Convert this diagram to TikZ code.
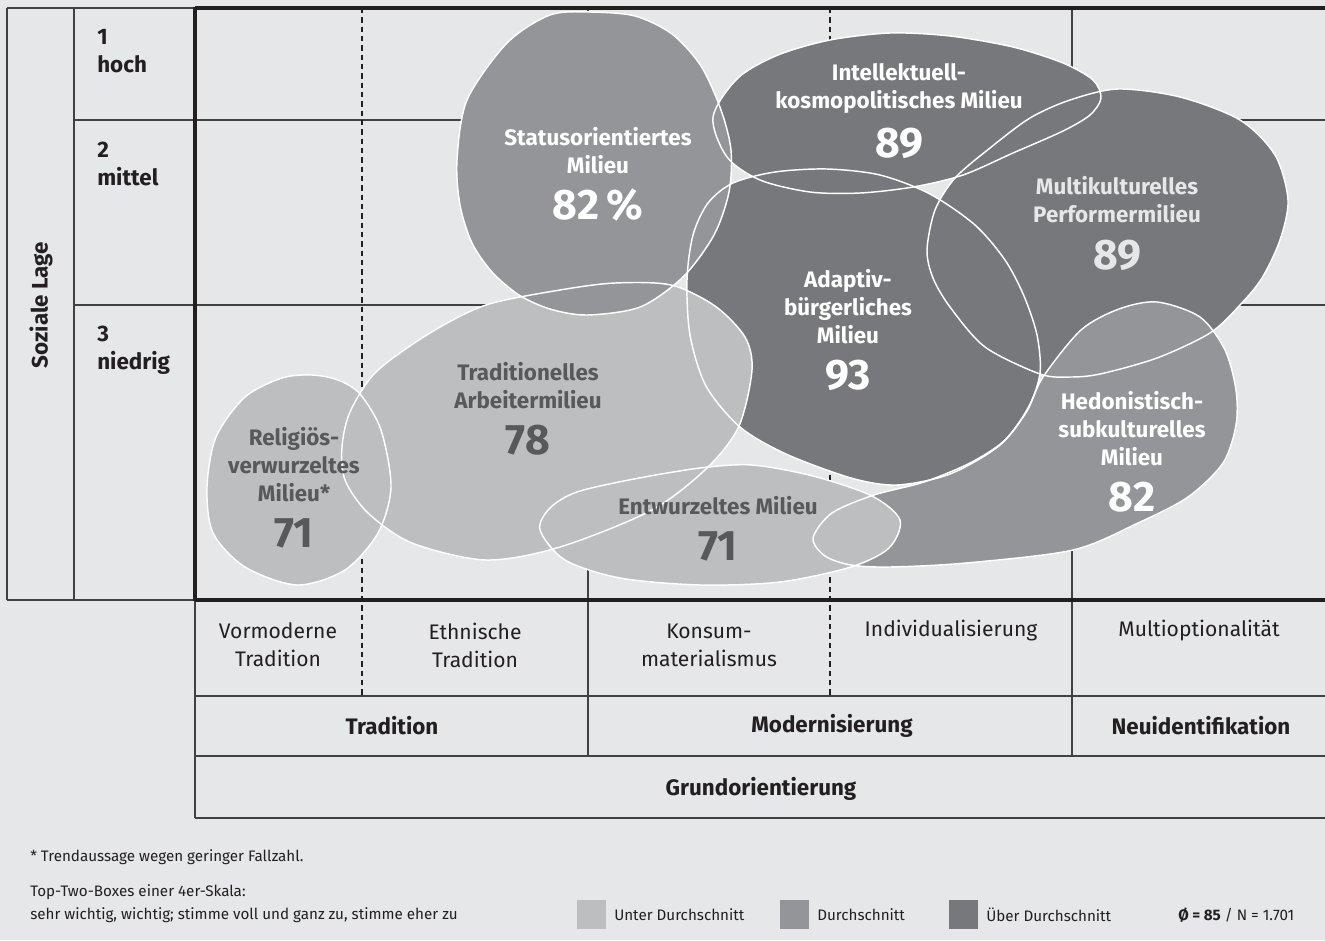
\documentclass[tikz,border=0pt]{standalone}
\usepackage{fontspec}
\setmainfont{Fira Sans}
\definecolor{bg}{HTML}{E6E7E8}
\definecolor{lowc}{HTML}{BCBEC0}
\definecolor{midc}{HTML}{939598}
\definecolor{highc}{HTML}{77787B}
\definecolor{txtdark}{HTML}{231F20}
\definecolor{blobtxt}{HTML}{58595B}
\definecolor{gridc}{HTML}{414042}
\tikzset{
  thinline/.style={draw=gridc, line width=1.1pt},
  thickline/.style={draw=txtdark, line width=2.4pt},
  dashline/.style={draw=txtdark, line width=0.9pt, dash pattern=on 4pt off 3pt},
  outline/.style={draw=white, line width=1.1pt},
  blobname/.style={font=\fontsize{16.8}{21}\selectfont\bfseries, align=center, inner sep=0pt},
  blobnum/.style={font=\fontsize{32}{36}\selectfont\bfseries, inner sep=0pt},
  cattext/.style={font=\fontsize{15.8}{21}\selectfont, align=center, inner sep=0pt, text=txtdark},
  headtext/.style={font=\fontsize{16.8}{21}\selectfont\bfseries, align=center, inner sep=0pt, text=txtdark},
  foottext/.style={font=\fontsize{11.4}{16.5}\selectfont, inner sep=0pt, anchor=west, text=txtdark},
  legbox/.style={minimum width=21.75pt, minimum height=21.75pt, inner sep=0pt, draw=none},
  pStatus/.style={insert path={plot[smooth cycle] coordinates {(590,12) (550,15) (507,43) (467,100) (457,160) (460,205) (472,243) (492,272) (519,295) (550,309) (587,315) (640,307) (683,277) (714,235) (729,192) (731,150) (721,110) (701,66) (672,34) (635,16)}}},
  pIntel/.style={insert path={plot[smooth cycle] coordinates {(713,117) (738,78) (778,55) (830,40) (890,33) (950,36) (1013,47) (1063,63) (1093,80) (1101,98) (1090,115) (1063,131) (1013,153) (963,175) (913,187) (860,193) (810,192) (760,180) (727,157)}}},
  pMulti/.style={insert path={plot[smooth cycle] coordinates {(927,250) (935,210) (955,178) (990,148) (1030,118) (1070,100) (1118,89) (1180,97) (1240,120) (1275,155) (1288,200) (1280,240) (1262,278) (1240,305) (1210,333) (1157,358) (1100,374) (1070,377) (1040,374) (985,347) (950,307) (933,278)}}},
  pAdapt/.style={insert path={plot[smooth cycle] coordinates {(687,280) (693,235) (708,203) (733,183) (775,172) (827,169) (880,175) (930,194) (975,225) (1005,260) (1024,296) (1037,335) (1040,373) (1028,408) (1000,445) (950,474) (897,485) (851,478) (786,454) (740,427) (706,386) (690,335)}}},
  pHed/.style={insert path={plot[smooth cycle] coordinates {(813,538) (832,513) (874,495) (924,482) (970,463) (1004,441) (1027,411) (1043,377) (1081,330) (1119,309) (1157,302) (1200,317) (1225,350) (1236,390) (1236,425) (1223,463) (1188,497) (1138,523) (1073,550) (966,563) (890,567) (851,565) (825,556)}}},
  pTrad/.style={insert path={plot[smooth cycle] coordinates {(486,305) (560,290) (615,283) (671,285) (715,306) (745,337) (752,370) (739,426) (708,467) (652,510) (560,547) (486,560) (412,543) (368,513) (345,480) (342,447) (350,412) (376,372) (430,333)}}},
  pRel/.style={insert path={plot[smooth cycle] coordinates {(312,375) (338,380) (360,394) (381,430) (391,487) (378,533) (345,570) (297,585) (245,567) (213,533) (207,487) (216,437) (245,397) (282,378)}}},
  pEnt/.style={insert path={plot[smooth cycle] coordinates {(540,530) (550,508) (577,492) (634,479) (700,468) (752,465) (813,476) (872,496) (900,520) (889,548) (851,567) (780,582) (700,585) (620,578) (565,560)}}},
}
\begin{document}
\begin{tikzpicture}[x=0.75pt,y=-0.75pt]
\useasboundingbox (0,0) rectangle (1325,940);
\fill[bg] (0,0) rectangle (1325,940);

% ---- grid lines (behind blobs)
\draw[thinline] (7,8) -- (195,8);
\draw[thinline] (7,600) -- (195,600);
\draw[thinline] (7,8) -- (7,600);
\draw[thinline] (74,8) -- (74,600);
\draw[thinline] (74,120) -- (1325,120);
\draw[thinline] (74,305) -- (1325,305);
\draw[thinline] (195,696) -- (1325,696);
\draw[thinline] (195,756) -- (1325,756);
\draw[thinline] (195,818) -- (1325,818);
\draw[thinline] (195,600) -- (195,818);
\draw[thinline] (588,8) -- (588,756);
\draw[thinline] (1072,8) -- (1072,756);
\draw[dashline] (362,8) -- (362,696);
\draw[dashline] (830,8) -- (830,696);
\draw[thickline] (195,8) -- (1325,8);
\draw[thickline] (195,600) -- (1325,600);
\draw[thickline] (195,6.8) -- (195,601.2);

% ---- blob fills (layer order)
\fill[highc, pIntel];
\fill[highc, pMulti];
\fill[highc, pAdapt];
\fill[midc, pHed];
\fill[lowc, pTrad];
\fill[lowc, pRel];
\fill[lowc, pEnt];
\fill[midc, pStatus];

% ---- blob outlines
\path[outline, pIntel];
\path[outline, pMulti];
\path[outline, pAdapt];
\path[outline, pHed];
\path[outline, pTrad];
\path[outline, pRel];
\path[outline, pEnt];
\path[outline, pStatus];

% ---- blob labels
\node[blobname, text=white] (statusN) at (598,151) {Statusorientiertes\\Milieu};
\node[blobnum, text=white] (statusV) at (598,205) {82\,\%};
\node[blobname, text=white] (intelN) at (899,88) {Intellektuell-\\kosmopolitisches Milieu};
\node[blobnum, text=white] (intelV) at (899,143) {89};
\node[blobname, text=bg] (multiN) at (1117,200) {Multikulturelles\\Performermilieu};
\node[blobnum, text=bg] (multiV) at (1117,255) {89};
\node[blobname, text=white] (adaptN) at (848,307) {Adaptiv-\\bürgerliches\\Milieu};
\node[blobnum, text=white] (adaptV) at (848,375) {93};
\node[blobname, text=blobtxt] (tradN) at (528,386) {Traditionelles\\Arbeitermilieu};
\node[blobnum, text=blobtxt] (tradV) at (528,440) {78};
\node[blobname, text=blobtxt] (relN) at (294,465) {Religiös-\\verwurzeltes\\Milieu*};
\node[blobnum, text=blobtxt] (relV) at (294,533) {71};
\node[blobname, text=blobtxt] (entN) at (718,506) {Entwurzeltes Milieu};
\node[blobnum, text=blobtxt] (entV) at (718,546) {71};
\node[blobname, text=white] (hedN) at (1132,429) {Hedonistisch-\\subkulturelles\\Milieu};
\node[blobnum, text=white] (hedV) at (1132,497) {82};

% ---- left axis
\node[headtext, rotate=90] (soz) at (41,305) {Soziale Lage};
\node[headtext, align=left, anchor=west] (r1) at (97,51) {1\\hoch};
\node[headtext, align=left, anchor=west] (r2) at (97,164) {2\\mittel};
\node[headtext, align=left, anchor=west] (r3) at (97,350) {3\\niedrig};

% ---- bottom axis
\node[cattext] (c1) at (278,645) {Vormoderne\\Tradition};
\node[cattext] (c2) at (475,645) {Ethnische\\Tradition};
\node[cattext] (c3) at (709,645) {Konsum-\\materialismus};
\node[cattext] (c4) at (951,631) {Individualisierung};
\node[cattext] (c5) at (1199,631) {Multioptionalität};
\node[headtext] (g1) at (392,726) {Tradition};
\node[headtext] (g2) at (832,726) {Modernisierung};
\node[headtext] (g3) at (1201,726) {Neuidentifikation};
\node[headtext] (g4) at (761,789) {Grundorientierung};

% ---- footer
\node[foottext] (f1) at (30,857) {* Trendaussage wegen geringer Fallzahl.};
\node[foottext] (f2) at (30,892) {Top-Two-Boxes einer 4er-Skala:};
\node[foottext] (f3) at (30,915) {sehr wichtig, wichtig; stimme voll und ganz zu, stimme eher zu};
\node[legbox, fill=lowc] (l1) at (591,914) {};
\node[foottext] (l1t) at (614,915) {Unter Durchschnitt};
\node[legbox, fill=midc] (l2) at (794,914) {};
\node[foottext] (l2t) at (817,915) {Durchschnitt};
\node[legbox, fill=highc] (l3) at (963,914) {};
\node[foottext] (l3t) at (986,915) {Über Durchschnitt};
\node[foottext] (avg) at (1178,915) {\textbf{Ø = 85} / N = 1.701};
\end{tikzpicture}
\end{document}
